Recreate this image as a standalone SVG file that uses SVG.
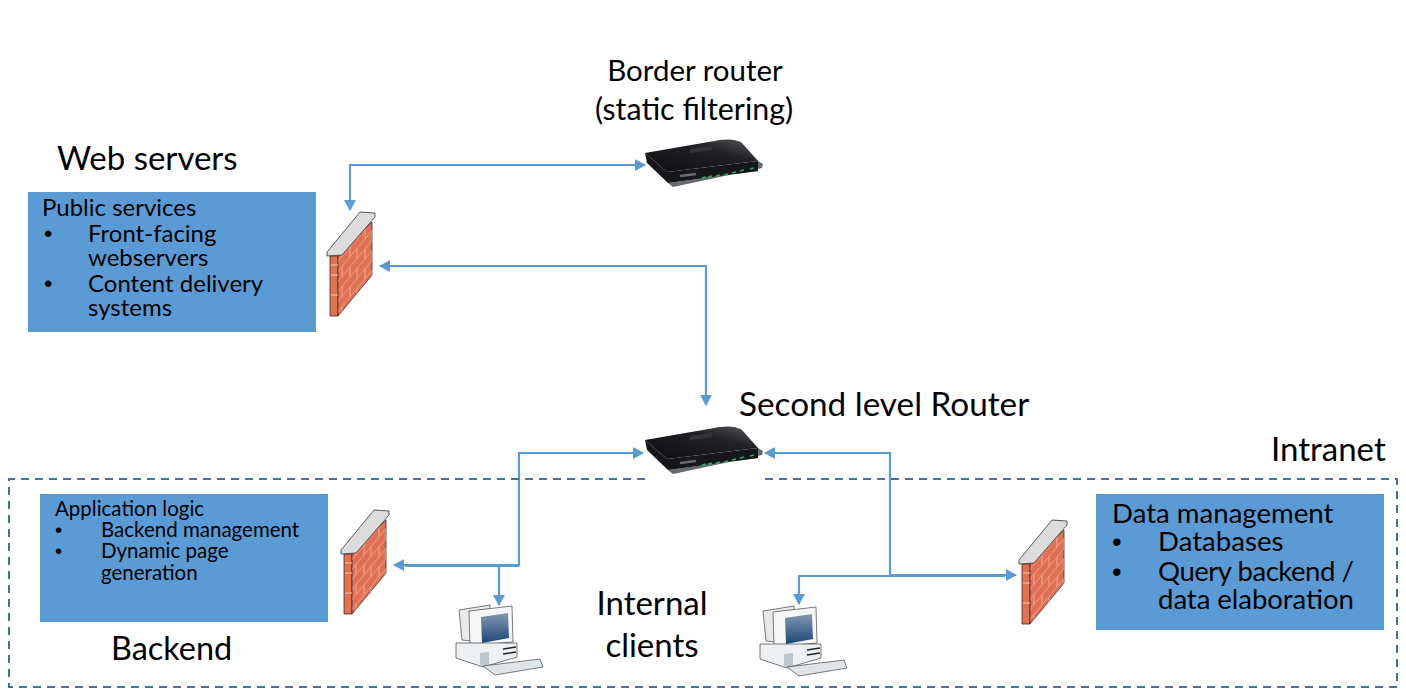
<svg xmlns="http://www.w3.org/2000/svg" width="1406" height="699" viewBox="0 0 1406 699">
<style>
text{font-family:Lato,"Liberation Sans",sans-serif;fill:#000}
.lab{font-size:33px}
.lab2{font-size:31px}
.box{fill:#5b9bd5}
.t1{font-size:24px}.t2{font-size:20.5px}.t3{font-size:27.6px}
.b{font-family:"Liberation Sans",sans-serif}
.c{fill:none;stroke:#5b9bd5;stroke-width:2.2}
.mid{text-anchor:middle}
</style>
<defs>
<marker id="a" markerWidth="13" markerHeight="13" refX="10" refY="6" orient="auto-start-reverse" markerUnits="userSpaceOnUse"><path d="M0 0L11 6L0 12Z" fill="#5b9bd5"/></marker>
<linearGradient id="top" x1="0" y1="1" x2="1" y2="0"><stop offset="0" stop-color="#0d0d0f"/><stop offset=".65" stop-color="#202226"/><stop offset="1" stop-color="#5a5c60"/></linearGradient>
<linearGradient id="scr" x1="0" y1="0" x2="0" y2="1"><stop offset="0" stop-color="#8398b2"/><stop offset="1" stop-color="#1f4678"/></linearGradient>
<pattern id="brick" width="15" height="20" patternUnits="userSpaceOnUse" patternTransform="skewY(-50)"><path d="M0 4H15M0 14H15M5 4V14M12 14V20M12 0V4" stroke="#efa58f" stroke-width="1" fill="none"/></pattern>
<g id="router">
<path d="M668 183L758 171V161L763 164L762 168L673 187Z" fill="#646a70"/>
<path d="M645 153L647 163L668 183L758 171V161L667 172Z" fill="#16171a"/>
<path d="M645 153L720 140Q735 138 742 143L758 161L667 172Z" fill="url(#top)"/>
<path d="M690 151L712 148" stroke="#33353a" stroke-width="4"/>
<path d="M680 176L696 174" stroke="#6a6a6a" stroke-width="2.5"/>
<path d="M702 178L706 177M708 177L712 176M716 176L720 175M724 175L728 174M732 173L736 172M740 171L744 170M750 169L754 168" stroke="#35a655" stroke-width="1.6"/>
</g>
<g id="wall">
<path d="M330 256H338V316H330Z" fill="#e3704f" stroke="#333" stroke-width=".8"/>
<path d="M338 256L372 222V275L338 316Z" fill="#e07053" stroke="#333" stroke-width=".8"/>
<path d="M338 256L372 222V275L338 316Z" fill="url(#brick)"/>
<path d="M331 265H338M331 275H338M331 295H338" stroke="#f3c3b2" stroke-width="1"/>
<path d="M327 252L360 212L375 213V217L342 255L327 256Z" fill="#dcdcdc" stroke="#333" stroke-width=".8"/>
</g>
<g id="pc">
<path d="M459 610L490 605V643L462 640Z" fill="#e9e9e9" stroke="#444" stroke-width=".7"/>
<path d="M469 611L512 606L513 642L470 646Z" fill="#f6f6f6" stroke="#444" stroke-width=".7"/>
<path d="M481 617L508 613L509 638L482 643Z" fill="url(#scr)"/>
<path d="M456 643L517 643V657L483 667L456 658Z" fill="#eef1f4" stroke="#444" stroke-width=".7"/>
<path d="M480 653L489 652V665L480 666Z" fill="#bcc6cc"/>
<path d="M503 649L516 647M503 654L516 652" stroke="#222" stroke-width="1.4"/>
<path d="M483 666L540 659L543 667L495 675Z" fill="#dfe5e9" stroke="#444" stroke-width=".7"/>
</g>
</defs>
<g id="connectors">
<path class="c" d="M645 165H350V210" marker-start="url(#a)" marker-end="url(#a)"/>
<path class="c" d="M380 266H706V405" marker-start="url(#a)" marker-end="url(#a)"/>
<path class="c" d="M394 565H519V453H643" marker-start="url(#a)" marker-end="url(#a)"/>
<path class="c" d="M519 566H405M499 566V605" marker-end="url(#a)"/>
<path class="c" d="M765 453H890V575H1016" marker-start="url(#a)" marker-end="url(#a)"/>
<path class="c" d="M1005 576H799V604" marker-end="url(#a)"/>
</g>
<g id="intranet">
<path d="M765 479H1397V687H700M645 479H9V687H700" fill="none" stroke="#41719c" stroke-width="2" stroke-dasharray="8 6"/>
<text class="lab" x="1271" y="461">Intranet</text>
</g>
<g id="border-router">
<use href="#router"/>
<text class="lab2 mid" x="695" y="81" style="font-size:29.5px">Border router</text>
<text class="lab2 mid" x="694" y="120" style="font-size:30.4px">(static filtering)</text>
</g>
<g id="second-router">
<use href="#router" y="287"/>
<text class="lab" x="739" y="416" style="font-size:33.3px">Second level Router</text>
</g>
<g id="web-servers">
<text class="lab" x="57" y="170">Web servers</text>
<rect class="box" x="28" y="192" width="288" height="140"/>
<g class="t1">
<text x="42" y="216">Public services</text>
<text class="b" x="44" y="242">•</text><text x="88" y="242">Front-facing</text>
<text x="88" y="266">webservers</text>
<text class="b" x="44" y="292">•</text><text x="88" y="292">Content delivery</text>
<text x="88" y="316">systems</text>
</g>
<use href="#wall"/>
</g>
<g id="backend">
<rect class="box" x="40" y="494" width="288" height="128"/>
<g class="t2">
<text x="55" y="516">Application logic</text>
<text class="b" x="55" y="537">•</text><text x="101" y="537">Backend management</text>
<text class="b" x="55" y="558">•</text><text x="101" y="558">Dynamic page</text>
<text x="101" y="580">generation</text>
</g>
<use href="#wall" x="14" y="298"/>
<text class="lab" x="111" y="660" style="font-size:32.4px">Backend</text>
</g>
<g id="data-management">
<rect class="box" x="1096" y="494" width="288" height="136"/>
<g class="t3">
<text x="1112" y="523">Data management</text>
<text class="b" x="1112" y="551">•</text><text x="1158" y="551">Databases</text>
<text class="b" x="1112" y="581">•</text><text x="1158" y="581" textLength="196">Query backend /</text>
<text x="1158" y="609" textLength="196">data elaboration</text>
</g>
<use href="#wall" x="692" y="308"/>
</g>
<g id="internal-clients">
<use href="#pc"/>
<use href="#pc" x="304" y="1"/>
<text class="lab mid" x="652" y="615">Internal</text>
<text class="lab mid" x="652" y="657">clients</text>
</g>
</svg>
